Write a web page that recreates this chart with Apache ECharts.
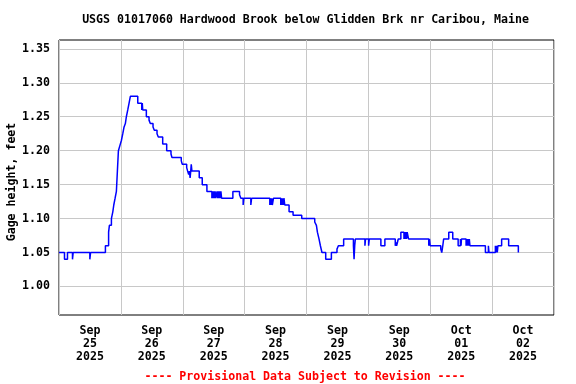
<!DOCTYPE html>
<html>
<head>
<meta charset="utf-8">
<script src="https://cdn.jsdelivr.net/npm/echarts@6/dist/echarts.min.js"></script>
<style>html,body{margin:0;padding:0;background:#fff}#c{width:576px;height:384px}</style>
</head>
<body>
<div id="c"></div>
<script>
const chartTitle = 'USGS 01017060 Hardwood Brook below Glidden Brk nr Caribou, Maine';
const footerText = '---- Provisional Data Subject to Revision ----';
const yAxisName = 'Gage height, feet';
// hours since 2025-09-25 00:00
const xLabelHours = [12, 36, 60, 84, 108, 132, 156, 180];
const xTickLabels = ['Sep\n25\n2025', 'Sep\n26\n2025', 'Sep\n27\n2025', 'Sep\n28\n2025',
                     'Sep\n29\n2025', 'Sep\n30\n2025', 'Oct\n01\n2025', 'Oct\n02\n2025'];
const yTickValues = [1.00, 1.05, 1.10, 1.15, 1.20, 1.25, 1.30, 1.35];
// [hour, gage height ft] — value starts at that hour
const readings = [
 [0,1.05],[2.13,1.04],[3.29,1.05],[5.23,1.04],[5.5,1.05],[11.96,1.04],[12.25,1.05],
 [18.0,1.06],[19.24,1.08],[19.55,1.09],[20.33,1.10],[20.87,1.11],[21.25,1.12],[21.76,1.13],
 [22.26,1.14],[22.65,1.17],[23.04,1.20],[23.81,1.21],[24.2,1.215],[24.74,1.225],[25.24,1.235],
 [25.74,1.24],[26.13,1.25],[26.67,1.26],[27.18,1.27],[27.68,1.28],[30.55,1.27],[32.09,1.26],
 [32.3,1.27],[32.48,1.26],[33.88,1.25],[34.92,1.245],[35.42,1.24],[36.47,1.235],[36.97,1.23],
 [38.02,1.225],[38.52,1.22],[40.22,1.21],[41.77,1.20],[43.44,1.195],[43.82,1.19],[47.43,1.185],
 [47.81,1.18],[49.52,1.175],[49.9,1.17],[50.3,1.165],[50.6,1.17],[50.85,1.16],[51.1,1.17],
 [51.3,1.18],[51.55,1.17],[54.39,1.16],[55.56,1.15],[57.37,1.14],
 [59.3,1.13],[59.55,1.14],[59.8,1.13],[60.05,1.14],[60.3,1.13],[60.55,1.14],[60.8,1.13],
 [61.3,1.14],[61.55,1.13],[61.8,1.14],[62.05,1.13],[62.3,1.14],[62.55,1.13],[62.8,1.14],
 [63.07,1.13],[67.44,1.14],[70.03,1.135],[70.54,1.13],[71.43,1.12],[71.7,1.13],[74.41,1.12],
 [74.7,1.13],[81.77,1.12],[82.0,1.13],[82.25,1.12],[82.5,1.13],[82.75,1.12],[83.2,1.13],
 [86.02,1.12],[86.25,1.13],[86.5,1.12],[86.75,1.13],[87.0,1.12],[87.25,1.13],[87.57,1.12],
 [89.24,1.11],[90.79,1.105],[94.15,1.10],[99.19,1.095],[99.84,1.09],[100.23,1.08],[100.85,1.07],
 [101.39,1.06],[102.0,1.05],[103.45,1.04],[105.65,1.05],[107.82,1.055],[108.36,1.06],[110.41,1.07],
 [114.2,1.06],[114.45,1.04],[114.7,1.06],[114.94,1.07],[118.66,1.06],[118.9,1.07],[120.09,1.06],
 [120.35,1.07],[124.85,1.06],[126.4,1.07],[130.43,1.06],[130.7,1.065],[130.95,1.06],[131.59,1.07],
 [132.6,1.08],[133.8,1.07],[134.05,1.08],[134.3,1.07],[134.55,1.08],[134.8,1.07],[135.05,1.08],
 [135.58,1.07],[143.43,1.06],[143.7,1.07],[143.98,1.06],[148.08,1.055],[148.47,1.05],[148.86,1.06],
 [149.2,1.07],[151.18,1.08],[152.73,1.07],[154.82,1.06],[155.7,1.07],[155.95,1.06],[156.1,1.07],
 [157.9,1.06],[158.15,1.07],[158.4,1.06],[158.65,1.07],[158.9,1.06],[159.15,1.07],[159.4,1.06],
 [165.39,1.05],[166.55,1.06],[166.8,1.05],[169.26,1.06],[169.5,1.05],[169.75,1.06],[170.0,1.05],
 [170.25,1.06],[171.69,1.07],[174.41,1.06],[178.17,1.05]
];

const FONT = '"DejaVu Sans Mono", "Liberation Mono", monospace';
const FS = 11.6;
const chart = echarts.init(document.getElementById('c'), null, {renderer: 'canvas'});
chart.setOption({
  animation: false,
  backgroundColor: '#fff',
  grid: {left: 59, right: 22, top: 40, bottom: 69, show: true, borderColor: '#000', borderWidth: 1, backgroundColor: 'transparent'},
  xAxis: {
    type: 'value', min: 0, max: 192, interval: 24,
    axisLine: {show: false}, axisTick: {show: false},
    splitLine: {show: true, lineStyle: {color: '#c8c8c8', width: 1}},
    axisLabel: {
      customValues: xLabelHours,
      formatter: v => xTickLabels[xLabelHours.indexOf(v)] || '',
      fontFamily: FONT, fontWeight: 'bold', fontSize: FS, lineHeight: 13, color: '#000', margin: 9
    }
  },
  yAxis: {
    type: 'value', min: 0.958, max: 1.363,
    axisLine: {show: false},
    axisTick: {show: false, customValues: yTickValues},
    splitLine: {show: true, lineStyle: {color: '#c8c8c8', width: 1}},
    axisLabel: {
      customValues: yTickValues,
      formatter: v => v.toFixed(2),
      fontFamily: FONT, fontWeight: 'bold', fontSize: FS, color: '#000', margin: 9
    }
  },
  graphic: [
    {type: 'text', x: 305.5, y: 20, style: {text: chartTitle, font: 'bold ' + FS + 'px ' + FONT, fill: '#000', textAlign: 'center', textVerticalAlign: 'middle'}},
    {type: 'text', x: 305, y: 377, style: {text: footerText, font: 'bold ' + FS + 'px ' + FONT, fill: '#ff0000', textAlign: 'center', textVerticalAlign: 'middle'}},
    {type: 'text', x: 12, y: 182, rotation: Math.PI / 2, style: {text: yAxisName, font: 'bold ' + FS + 'px ' + FONT, fill: '#000', textAlign: 'center', textVerticalAlign: 'middle'}}
  ],
  series: [{
    type: 'line', step: 'end', showSymbol: false, symbol: 'none',
    lineStyle: {color: '#0000ff', width: 1.5},
    data: readings
  }]
});
</script>
</body>
</html>
